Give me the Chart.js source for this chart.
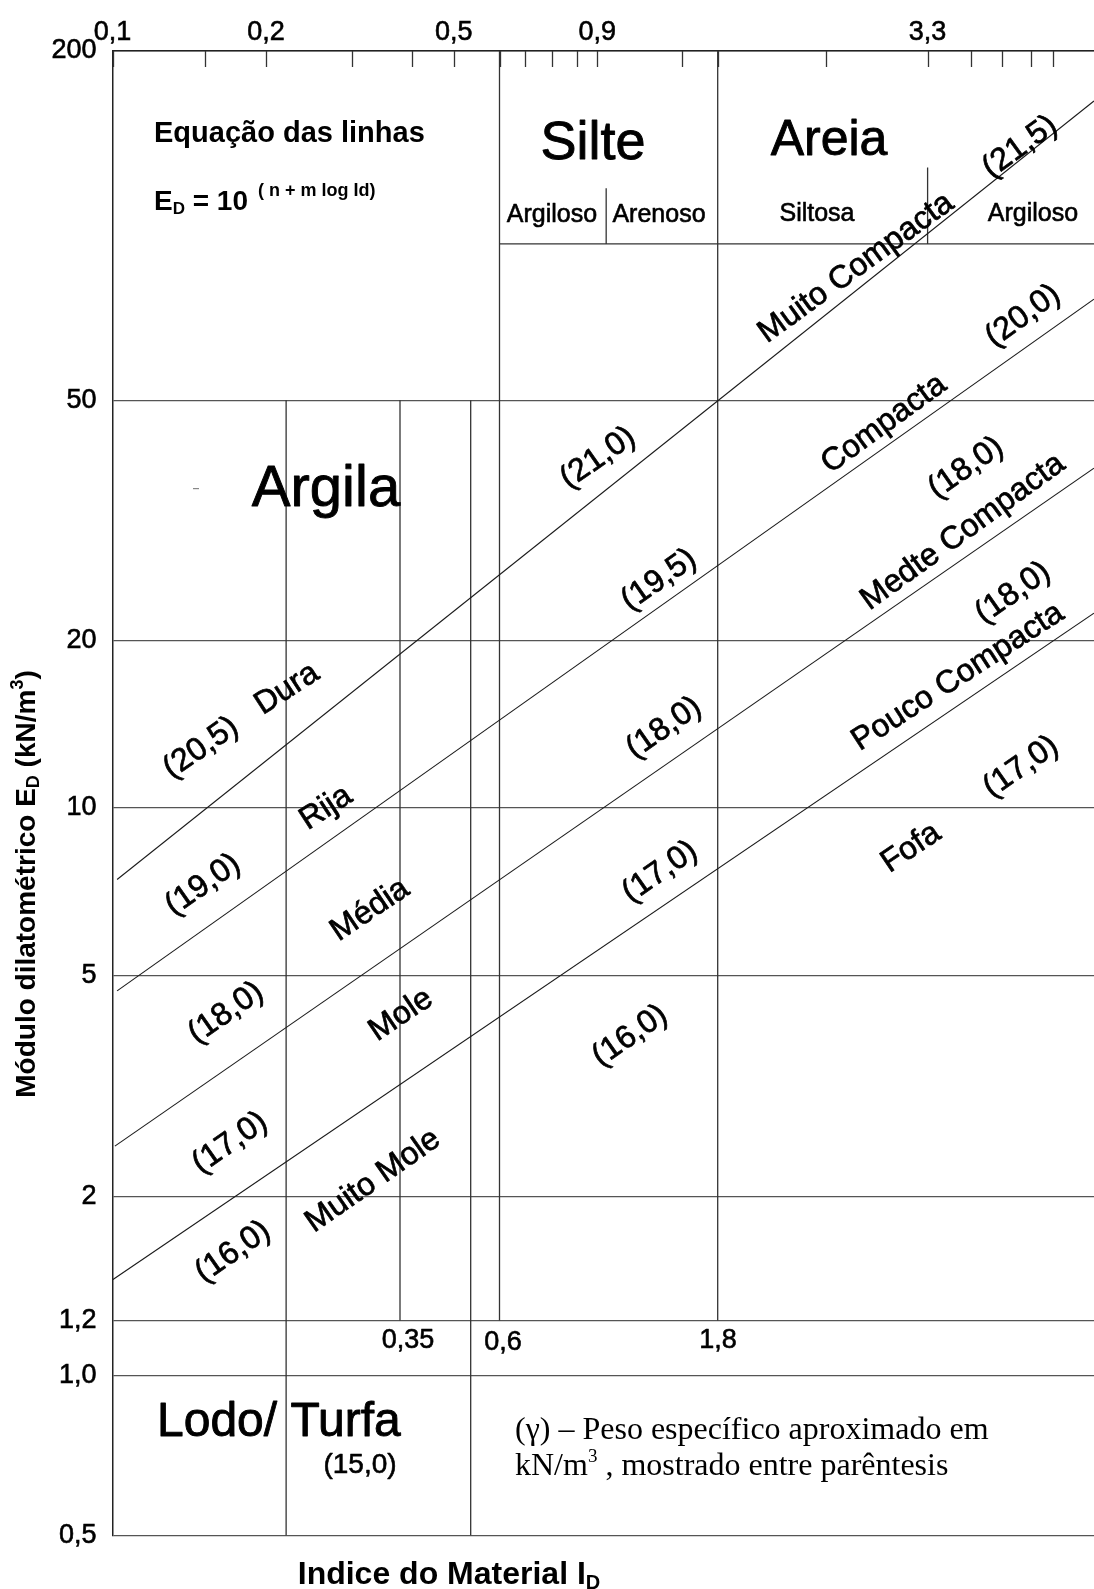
<!DOCTYPE html>
<html lang="pt">
<head>
<meta charset="utf-8">
<title>Classificação dos solos pelo ensaio dilatométrico</title>
<script src="https://cdn.jsdelivr.net/npm/chart.js@4.4.0/dist/chart.umd.min.js"></script>
<style>
  html, body { margin: 0; padding: 0; background: #fff; }
  #grafico { display: block; }
</style>
</head>
<body>
<canvas id="grafico" width="1094" height="1589"></canvas>
<script>
// Marcas do eixo superior (Indice do Material ID)
const xTickValues = [0.1, 0.15, 0.2, 0.3, 0.4, 0.5, 0.6, 0.7, 0.75, 0.8, 0.9, 1.5, 1.8, 2.5, 3.3, 4, 5, 6, 7];
const xTickText = ['0,1', '', '0,2', '', '', '0,5', '', '', '', '', '0,9', '', '', '', '3,3', '', '', '', ''];

// Marcas do eixo vertical (Modulo dilatometrico ED)
const yTickValues = [200, 50, 20, 10, 5, 2, 1.2, 1.0, 0.5];
const yTickText = ['200', '50', '20', '10', '5', '2', '1,2', '1,0', '0,5'];

// Linhas inclinadas [ID, ED] nas duas pontas
const linhaDura = [[0.102, 7.44], [10, 164]];
const linhaRija = [[0.102, 4.70], [10, 74.7]];
const linhaMedia = [[0.101, 2.47], [10, 38.6]];
const linhaMole = [[0.1, 1.42], [10, 22.2]];

// Limites verticais: ID, ED no topo e ED na base
const limiteID = [0.22, 0.35, 0.535, 0.6, 1.8, 0.95, 3.3];
const limiteTopo = [50, 50, 50, 200, 200, 116, 126];
const limiteBase = [0.5, 1.2, 0.5, 1.2, 1.2, 93, 93];

// Base do quadro Silte / Areia
const cabecalhoID = [0.6, 10];
const cabecalhoED = 93;

// O eixo do desenho original nao e um log perfeito: posicao de cada marca
const escalaPx = {
  x: { v: [0.1, 0.15, 0.2, 0.3, 0.35, 0.4, 0.5, 0.6, 0.7, 0.75, 0.8, 0.9, 1.5, 1.8, 2.5, 3.3, 4, 5, 6, 7, 10],
       p: [112.6, 204.6, 266, 351.6, 400, 411.6, 453.7, 499.5, 524.6, 552.4, 576.7, 597.2, 682, 717.7, 825.5, 927.6, 971, 1002, 1031, 1053, 1094] },
  y: { v: [0.5, 1, 1.2, 2, 5, 10, 20, 50, 200],
       p: [1535.5, 1375.5, 1320.5, 1197, 976, 807.7, 640.5, 400.3, 51] }
};

const LogBase = Chart.LogarithmicScale || Chart.registry.getScale('logarithmic');

class EscalaLogDesenhada extends LogBase {
  static id = 'logDesenhada';

  mapa() {
    const m = escalaPx[this.id];
    const p0 = m.p[0], p1 = m.p[m.p.length - 1];
    return { lv: m.v.map(Math.log10), d: m.p.map(p => (p - p0) / (p1 - p0)) };
  }

  getPixelForValue(value) {
    if (value === undefined || value === 0) value = this.min;
    if (value === null || isNaN(value)) return NaN;
    const { lv, d } = this.mapa();
    const l = Math.log10(value);
    let i = 0;
    while (i < lv.length - 2 && l > lv[i + 1]) i++;
    const dec = d[i] + (l - lv[i]) / (lv[i + 1] - lv[i]) * (d[i + 1] - d[i]);
    return this.getPixelForDecimal(dec);
  }

  getValueForPixel(pixel) {
    const { lv, d } = this.mapa();
    const dec = this.getDecimalForPixel(pixel);
    let i = 0;
    while (i < d.length - 2 && dec > d[i + 1]) i++;
    return Math.pow(10, lv[i] + (dec - d[i]) / (d[i + 1] - d[i]) * (lv[i + 1] - lv[i]));
  }
}
Chart.register(EscalaLogDesenhada);

const SANS = "'Liberation Sans', Arial, sans-serif";
const SERIF = "'Liberation Serif', 'Times New Roman', serif";
const COR_TEXTO = '#000';

// Rotulos inclinados (texto, x, y, angulo) em pixels da figura
const rotulosInclinados = [
  ['Muito Compacta', 856, 268, 36], ['(21,5)', 1020, 147, 36], ['(20,0)', 1023, 316, 36],
  ['Compacta', 884, 424, 36], ['(21,0)', 598, 458, 35], ['(18,0)', 966, 468, 35],
  ['Medte Compacta', 963, 532, 36], ['(19,5)', 659, 580, 35], ['(18,0)', 1013, 593, 35],
  ['Pouco Compacta', 958, 677, 33], ['Dura', 287, 689, 33], ['(20,5)', 201, 748, 35],
  ['(18,0)', 664, 728, 35], ['(17,0)', 1021, 767, 35], ['Rija', 326, 808, 33],
  ['Fofa', 911, 848, 34], ['(19,0)', 203, 885, 35], ['(17,0)', 660, 872, 35],
  ['Média', 370, 910, 34], ['(18,0)', 226, 1013, 35], ['Mole', 401, 1015, 34],
  ['(16,0)', 630, 1036, 35], ['(17,0)', 230, 1143, 35], ['Muito Mole', 373, 1181, 35],
  ['(16,0)', 233, 1252, 35]
];

// Rotulos horizontais (texto, x, linha de base, tamanho, alinhamento)
const rotulosRetos = [
  ['Silte', 593, 159, 54, 'center'],
  ['Areia', 829, 155, 50, 'center'],
  ['Argiloso', 552, 222, 25, 'center'],
  ['Arenoso', 659, 222, 25, 'center'],
  ['Siltosa', 817, 221, 25, 'center'],
  ['Argiloso', 1033, 221, 25, 'center'],
  ['Argila', 326, 506, 58, 'center'],
  ['Lodo/ Turfa', 157, 1436, 48, 'left'],
  ['(15,0)', 360, 1473, 28, 'center'],
  ['0,35', 408, 1348, 27, 'center'],
  ['0,6', 503, 1350, 27, 'center'],
  ['1,8', 718, 1348, 27, 'center']
];

function escreverTrechos(ctx, trechos, x, y, alinhar, traco) {
  let total = 0;
  trechos.forEach(t => { ctx.font = t.font; t.w = ctx.measureText(t.t).width; total += t.w; });
  let cx = alinhar === 'center' ? x - total / 2 : x;
  ctx.textAlign = 'left';
  trechos.forEach(t => {
    ctx.font = t.font;
    if (traco) ctx.strokeText(t.t, cx, y + (t.dy || 0));
    ctx.fillText(t.t, cx, y + (t.dy || 0));
    cx += t.w;
  });
}

const textosPlugin = {
  id: 'textos',
  afterDraw(chart) {
    const ctx = chart.ctx;
    const sx = chart.scales.x;
    const top = chart.chartArea.top;
    ctx.save();

    // marcas do eixo superior, voltadas para dentro
    ctx.strokeStyle = '#333';
    ctx.lineWidth = 1.3;
    xTickValues.forEach(v => {
      const px = Math.round(sx.getPixelForValue(v)) + 0.5;
      ctx.beginPath();
      ctx.moveTo(px, top);
      ctx.lineTo(px, top + 16);
      ctx.stroke();
    });

    ctx.fillStyle = COR_TEXTO;
    ctx.strokeStyle = COR_TEXTO;
    ctx.lineJoin = 'round';
    ctx.lineWidth = 0.7;
    ctx.textBaseline = 'middle';
    ctx.textAlign = 'center';
    ctx.font = '32px ' + SANS;
    rotulosInclinados.forEach(([t, x, y, a]) => {
      ctx.save();
      ctx.translate(x, y);
      ctx.rotate(-a * Math.PI / 180);
      ctx.strokeText(t, 0, 0);
      ctx.fillText(t, 0, 0);
      ctx.restore();
    });

    ctx.textBaseline = 'alphabetic';
    rotulosRetos.forEach(([t, x, y, s, a]) => {
      ctx.font = s + 'px ' + SANS;
      ctx.textAlign = a;
      ctx.lineWidth = s > 40 ? 0.9 : 0.6;
      ctx.strokeText(t, x, y);
      ctx.fillText(t, x, y);
    });

    // tracinho solto perto de "Argila"
    ctx.fillStyle = '#888';
    ctx.fillRect(193, 488, 6, 1.2);
    ctx.fillStyle = COR_TEXTO;

    // equacao das linhas
    ctx.textAlign = 'left';
    ctx.font = 'bold 29px ' + SANS;
    ctx.fillText('Equação das linhas', 154, 142);
    escreverTrechos(ctx, [
      { t: 'E', font: 'bold 28px ' + SANS },
      { t: 'D', font: 'bold 17px ' + SANS, dy: 4 },
      { t: ' = 10', font: 'bold 28px ' + SANS },
      { t: '  ( n + m log Id)', font: 'bold 18px ' + SANS, dy: -14 }
    ], 154, 210, 'left');

    // nota em serifa
    ctx.font = '32px ' + SERIF;
    ctx.fillText('(γ) – Peso específico aproximado em', 515, 1439);
    escreverTrechos(ctx, [
      { t: 'kN/m', font: '32px ' + SERIF },
      { t: '3', font: '19px ' + SERIF, dy: -13 },
      { t: ' , mostrado entre parêntesis', font: '32px ' + SERIF }
    ], 515, 1475, 'left');

    // titulo do eixo x
    escreverTrechos(ctx, [
      { t: 'Indice do Material I', font: 'bold 32px ' + SANS },
      { t: 'D', font: 'bold 20px ' + SANS, dy: 5 }
    ], 449, 1584, 'center');

    // titulo do eixo y
    ctx.save();
    ctx.translate(25, 884);
    ctx.rotate(-Math.PI / 2);
    escreverTrechos(ctx, [
      { t: 'Módulo dilatométrico E', font: 'bold 28px ' + SANS },
      { t: 'D', font: 'bold 18px ' + SANS, dy: 4 },
      { t: ' (kN/m', font: 'bold 28px ' + SANS },
      { t: '3', font: 'bold 18px ' + SANS, dy: -12 },
      { t: ')', font: 'bold 28px ' + SANS }
    ], 0, 10, 'center');
    ctx.restore();

    ctx.restore();
  }
};

const tracos = { showLine: true, pointRadius: 0, pointHoverRadius: 0, fill: false, tension: 0 };

const datasets = [linhaDura, linhaRija, linhaMedia, linhaMole].map(l => ({
  ...tracos,
  data: l.map(([x, y]) => ({ x, y })),
  borderColor: '#1a1a1a',
  borderWidth: 1.1
})).concat(limiteID.map((id, i) => ({
  ...tracos,
  data: [{ x: id, y: limiteTopo[i] }, { x: id, y: limiteBase[i] }],
  borderColor: '#333',
  borderWidth: 1.3
}))).concat([{
  ...tracos,
  data: cabecalhoID.map(x => ({ x, y: cabecalhoED })),
  borderColor: '#333',
  borderWidth: 1.3
}]);

const fonteEixo = { family: SANS, size: 27 };

new Chart(document.getElementById('grafico').getContext('2d'), {
  type: 'scatter',
  data: { datasets },
  options: {
    responsive: false,
    animation: false,
    devicePixelRatio: 1,
    events: [],
    layout: { padding: { top: 0, left: 0, right: 0, bottom: 53.5 } },
    plugins: { legend: { display: false }, tooltip: { enabled: false } },
    scales: {
      x: {
        type: 'logDesenhada',
        position: 'top',
        min: 0.1,
        max: 10,
        afterBuildTicks: s => { s.ticks = xTickValues.map(v => ({ value: v })); },
        afterFit: s => { s.height = 51; },
        grid: { display: false, drawTicks: false },
        border: { display: true, color: '#222', width: 1.5 },
        ticks: { autoSkip: false, maxRotation: 0, padding: 2, color: COR_TEXTO, font: fonteEixo,
                 textStrokeColor: COR_TEXTO, textStrokeWidth: 0.6,
                 callback: (v, i) => xTickText[i] }
      },
      y: {
        type: 'logDesenhada',
        position: 'left',
        min: 0.5,
        max: 200,
        afterBuildTicks: s => { s.ticks = yTickValues.map(v => ({ value: v })); },
        afterFit: s => { s.width = 112.6; },
        grid: { color: '#555', lineWidth: 1.3, drawTicks: false },
        border: { display: true, color: '#222', width: 1.5 },
        ticks: { autoSkip: false, padding: 16, color: COR_TEXTO, font: fonteEixo,
                 textStrokeColor: COR_TEXTO, textStrokeWidth: 0.6,
                 callback: (v, i) => yTickText[i] }
      }
    }
  },
  plugins: [textosPlugin]
});
</script>
</body>
</html>
